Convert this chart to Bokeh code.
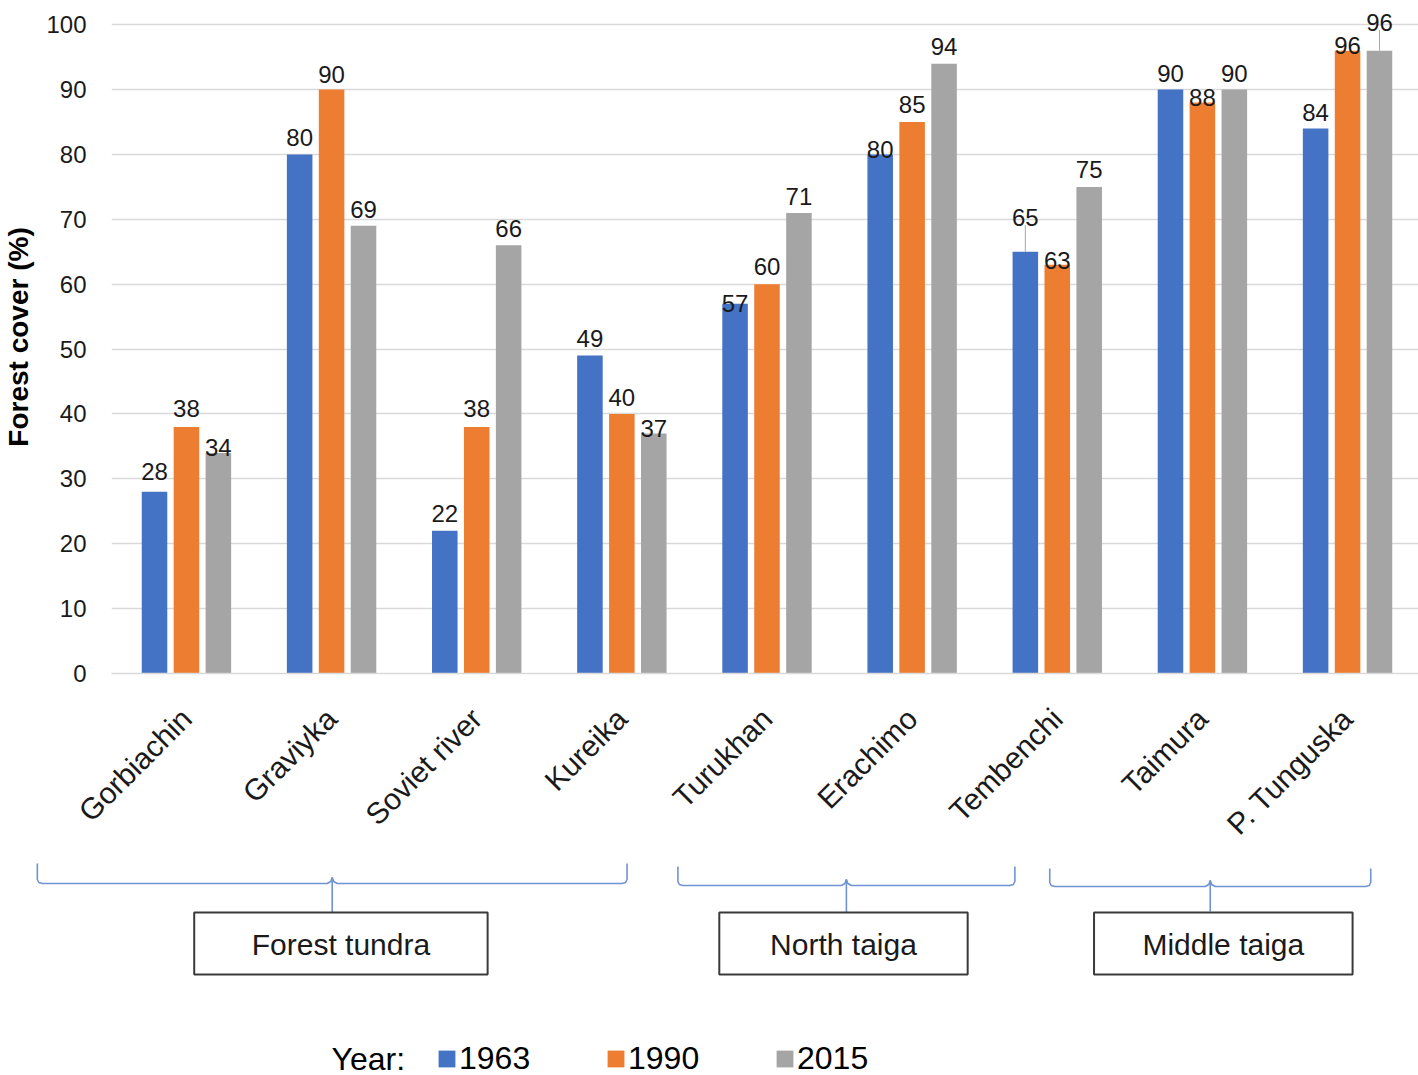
import math
from bokeh.plotting import figure
from bokeh.models import ColumnDataSource, Range1d, FixedTicker, Legend, LegendItem
from bokeh.transform import dodge
from bokeh.core.properties import value
from bokeh.embed import file_html
from bokeh.resources import INLINE

# ------------------------------------------------------------------ data
categories = ["Gorbiachin", "Graviyka", "Soviet river", "Kureika", "Turukhan",
              "Erachimo", "Tembenchi", "Taimura", "P. Tunguska"]
years = ["1963", "1990", "2015"]
cover_1963 = [28, 80, 22, 49, 57, 80, 65, 90, 84]
cover_1990 = [38, 90, 38, 40, 60, 85, 63, 88, 96]
cover_2015 = [34, 69, 66, 37, 71, 94, 75, 90, 96]
y_ticks = [0, 10, 20, 30, 40, 50, 60, 70, 80, 90, 100]
zones = ["Forest tundra", "North taiga", "Middle taiga"]
y_title = "Forest cover (%)"
legend_title = "Year:"

# ------------------------------------------------------------------ style
FONT = "Liberation Sans"
TXT = "#1a1a1a"
colors = ["#4472C4", "#ED7D31", "#A5A5A5"]
bar_width = 0.176
bar_step = 0.22
# pixel lift of each value label's baseline above its bar top
label_lift = [[20, 17, 17, 17, 0, 5, 34, 16, 16],
              [18, 15, 18, 16, 18, 18, 4, 5, 5],
              [5, 16, 17, 5, 16, 17, 17, 16, 28]]

W = 1418
H_TOP = 855
H_BOT = 220
FRAME_LEFT = 110
FRAME_BOTTOM = 175
unit_px = 145.25          # pixels per category step
ppu = 6.555               # pixels per percent
X0 = -75 / unit_px
X1 = X0 + (W - FRAME_LEFT) / unit_px
Y_MAX = (H_TOP - FRAME_BOTTOM) / ppu

# ------------------------------------------------------------------ main chart
p = figure(width=W, height=H_TOP, x_range=Range1d(X0, X1), y_range=Range1d(0, Y_MAX),
           output_backend="svg", toolbar_location=None,
           min_border_left=FRAME_LEFT, min_border_right=0, min_border_top=0,
           min_border_bottom=FRAME_BOTTOM)
p.outline_line_color = None
p.background_fill_color = "white"
p.border_fill_color = "white"
p.xgrid.visible = False
p.ygrid.grid_line_color = "#d9d9d9"
p.ygrid.grid_line_width = 1.5

p.yaxis.ticker = FixedTicker(ticks=y_ticks)
p.yaxis.axis_line_color = None
p.yaxis.major_tick_line_color = None
p.yaxis.minor_tick_line_color = None
p.yaxis.major_tick_out = 0
p.yaxis.major_tick_in = 0
p.yaxis.major_label_standoff = 25
p.yaxis.major_label_text_font = FONT
p.yaxis.major_label_text_font_size = "24px"
p.yaxis.major_label_text_color = TXT
p.yaxis.axis_label = y_title
p.yaxis.axis_label_text_font = FONT
p.yaxis.axis_label_text_font_size = "28px"
p.yaxis.axis_label_text_font_style = "bold"
p.yaxis.axis_label_text_color = "#000000"
p.yaxis.axis_label_standoff = 9

idx = list(range(len(categories)))
p.xaxis.ticker = FixedTicker(ticks=idx)
p.xaxis.major_label_overrides = {i: c for i, c in enumerate(categories)}
p.xaxis.major_label_orientation = math.pi / 4
p.xaxis.axis_line_color = "#d9d9d9"
p.xaxis.axis_line_width = 1.5
p.xaxis.major_tick_line_color = None
p.xaxis.minor_tick_line_color = None
p.xaxis.major_tick_out = 0
p.xaxis.major_tick_in = 0
p.xaxis.major_label_standoff = 40
p.xaxis.major_label_text_font = FONT
p.xaxis.major_label_text_font_size = "30px"
p.xaxis.major_label_text_color = TXT

series = [cover_1963, cover_1990, cover_2015]
data = dict(idx=idx)
for k, (yr, vals) in enumerate(zip(years, series)):
    data["v" + yr] = vals
    data["t" + yr] = [str(v) for v in vals]
    data["o" + yr] = [-d for d in label_lift[k]]
src = ColumnDataSource(data)

# leader lines for labels that were lifted away from their bars
lx, ly0, ly1 = [], [], []
for k, vals in enumerate(series):
    for i, v in enumerate(vals):
        lift = label_lift[k][i]
        if lift > 22:
            lx.append(i + (k - 1) * bar_step)
            ly0.append(v)
            ly1.append(v + (lift - 7) / ppu)
p.segment(x0=lx, y0=ly0, x1=lx, y1=ly1, line_color="#a6a6a6", line_width=1)

for k, yr in enumerate(years):
    off = (k - 1) * bar_step
    p.vbar(x=dodge("idx", off), top="v" + yr, width=bar_width, source=src,
           fill_color=colors[k], line_color=None)
    p.text(x=dodge("idx", off), y="v" + yr, text="t" + yr, y_offset="o" + yr, source=src,
           text_align="center", text_baseline="alphabetic", text_font=value(FONT),
           text_font_size="24px", text_color=TXT)

# ------------------------------------------------------------------ zone brackets + legend
QX0 = X0 - FRAME_LEFT / unit_px
q = figure(width=W, height=H_BOT, x_range=Range1d(QX0, X1), y_range=Range1d(H_BOT, 0),
           x_axis_type=None, y_axis_type=None, output_backend="svg", toolbar_location=None,
           min_border=0, min_border_left=0, min_border_right=0, min_border_top=0,
           min_border_bottom=0)
q.outline_line_color = None
q.background_fill_color = "white"
q.border_fill_color = "white"

bracket_l = [-1.02, 3.39, 5.95]
bracket_r = [3.04, 5.71, 8.16]
bracket_top = [8, 11, 13]
bracket_mid = [28, 30, 31]
stem_end = [57, 58, 56]
box_w = [2.02, 1.71, 1.78]
box_shift = [0.06, -0.02, 0.09]
box_top, box_bottom = 57, 119

c = 5 / unit_px
bxs, bys = [], []
centers = []
for L, R, t, h, s in zip(bracket_l, bracket_r, bracket_top, bracket_mid, stem_end):
    C = (L + R) / 2
    centers.append(C)
    bxs.append([L, L, L + 0.3 * c, L + c, C - c, C - 0.3 * c, C, C + 0.3 * c, C + c,
                R - c, R - 0.3 * c, R, R])
    bys.append([t, h - 4, h - 1, h, h, h - 2, h - 6, h - 2, h, h, h - 1, h - 4, t])
    bxs.append([C, C])
    bys.append([h - 6, s])
q.multi_line(xs=bxs, ys=bys, line_color="#6f93d2", line_width=1.6)

box_c = [cc + sh for cc, sh in zip(centers, box_shift)]
q.quad(left=[bc - bw / 2 for bc, bw in zip(box_c, box_w)],
       right=[bc + bw / 2 for bc, bw in zip(box_c, box_w)],
       top=[box_top] * 3, bottom=[box_bottom] * 3,
       fill_color="white", line_color="#3a3a3a", line_width=2)
q.text(x=box_c, y=[(box_top + box_bottom) / 2 + 1] * 3, text=zones,
       text_align="center", text_baseline="middle", text_font=value(FONT),
       text_font_size="30px", text_color=TXT)

# legend
LEG_Y = 203
dummy = []
for k in range(3):
    r = q.rect(x=[QX0 - 5], y=[-50], width=0.1, height=1, fill_color=colors[k], line_color=None)
    dummy.append(r)
legend = Legend(items=[LegendItem(label=yr, renderers=[r]) for yr, r in zip(years, dummy)],
                orientation="horizontal", location=(436, -2),
                glyph_width=21, glyph_height=21, label_standoff=2, label_width=120,
                spacing=26, padding=0, margin=0, border_line_color=None,
                background_fill_alpha=0, label_text_font=FONT,
                label_text_font_size="32px", label_text_color="#000000")
q.add_layout(legend)
q.text(x=[QX0 + 331 / unit_px], y=[LEG_Y], text=[legend_title], text_align="left",
       text_baseline="middle", text_font=value(FONT), text_font_size="32px",
       text_color="#000000")

open("out.html", "w").write(file_html([p, q], INLINE))
